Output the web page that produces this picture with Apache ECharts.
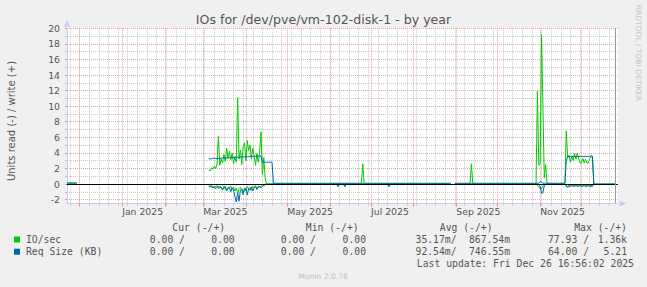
<!DOCTYPE html>
<html>
<head>
<meta charset="utf-8">
<script src="https://cdn.jsdelivr.net/npm/echarts@6.0.0/dist/echarts.min.js"></script>
<style>
html,body{margin:0;padding:0;background:#f0f0f0;}
#chart{width:647px;height:287px;}
</style>
</head>
<body>
<div id="chart"></div>
<script>
// ---------------- data ----------------
const chartTitle = 'IOs for /dev/pve/vm-102-disk-1 - by year';
const yAxisTitle = 'Units read (-) / write (+)';
const rangeStart = '2024-11-21T21:36';
const rangeEnd = '2025-12-27T14:24';
const nowLine = '2025-12-25T18:00';
const monthTicks = ['2024-12-01','2025-01-01','2025-02-01','2025-03-01','2025-04-01','2025-05-01','2025-06-01','2025-07-01','2025-08-01','2025-09-01','2025-10-01','2025-11-01','2025-12-01'];
const monthLabelDates = ['2025-01-01','2025-03-01','2025-05-01','2025-07-01','2025-09-01','2025-11-01'];
const monthLabels = ['Jan 2025','Mar 2025','May 2025','Jul 2025','Sep 2025','Nov 2025'];
const yMajorTicks = [-2,0,2,4,6,8,10,12,14,16,18,20];
const yMinorTicks = [-1,1,3,5,7,9,11,13,15,17,19];
const yMin = -2.5, yMax = 20;

// burst start dates (daily values follow)
const marStart = '2025-03-05';
const octStart = '2025-10-29';
const novStart = '2025-11-19';

// IO/sec  (write = +, read = -)
const ioWriteQuiet = [['2024-11-22',0.05],['2024-11-29',0.05],['2024-12-01',null],
  ['2025-06-24',0.05],['2025-06-25',2.6],['2025-06-26',0.05],['2025-08-28',0.05],['2025-08-29',null],
  ['2025-08-31',0.05],['2025-09-11',0.05],['2025-09-12',2.6],['2025-09-13',0.05],['2025-10-28',0.05],
  ['2025-11-18',0.05],['2025-12-11',0],['2025-12-26',0]];
const ioWriteMar = [1.8,1.7,2.1,1.9,2.3,2.0,2.6,6.1,2.4,3.2,2.7,3.8,2.9,4.6,3.3,4.2,3.1,4.0,2.6,3.5,2.8,11.1,3.2,4.4,2.5,4.8,5.3,3.0,5.6,4.3,5.0,3.2,4.6,3.7,2.4,3.9,2.8,4.1,6.7,1.2,3.4,0.8,0.05];
const ioWriteOct = [0.05,11.9,2.4,2.6,19.2,9.9,0.8,2.5,0.05];
const ioWriteNov = [0.05,6.8,3.4,3.7,2.8,3.6,3.0,3.9,3.2,4.0,3.3,2.7,2.7,3.3,2.7,3.2,2.7,2.7,3.3,3.5,3.4,0];
const ioReadBreaks = [['2025-04-17',null],['2025-11-06',null]];
const ioReadMar = [0.3,0.2,0.4,0.3,0.5,0.3,0.2,0.6,0.3,0.4,0.8,0.3,0.6,0.9,0.4,0.5,0.3,0.7,0.4,0.9,0.5,1.2,0.6,0.4,0.8,1.4,0.5,0.9,0.3,0.6,0.4,0.8,0.3,0.5,0.2,0.6,0.3,0.4,0.2,0.1,0.1,0,0];
const ioReadOct = [0,0.2,0.4,0.5,0.6,0.3,0.1,0];
const ioReadNov = [0,0.2,0.3,0.2,0.2,0.1,0.2,0.2,0.1,0.2,0.2,0.1,0.2,0.2,0.1,0.2,0.2,0.1,0.2,0.2,0.2,0];

// Req Size (KB)  (write = +, read = -)
const reqWriteQuiet = [['2024-11-22',0.15],['2024-11-29',0.15],['2024-12-01',null],
  ['2025-08-28',0.1],['2025-08-29',null],['2025-08-31',0.1],['2025-10-28',0.1],
  ['2025-11-18',0.1],['2025-12-11',0],['2025-12-26',0]];
const reqWriteMar = [3.25,3.2,3.25,3.3,3.3,3.3,3.25,3.3,3.3,3.3,3.35,3.35,3.3,3.35,3.35,3.4,3.4,3.4,3.4,3.45,3.45,3.45,3.45,3.45,3.5,3.5,3.5,3.5,3.5,3.5,3.55,3.55,3.55,3.55,3.6,3.6,3.6,3.6,3.6,2.8,2.8,2.8,2.8,2.8,2.8,2.8,2.8,0.1];
const reqWriteOct = [0.1,0.1,0.1,0.3,0.25,0.1,0.1,0.1,0.1];
const reqWriteNov = [0.1,3.0,3.5,3.55,3.55,3.55,3.55,3.55,3.55,3.55,3.55,3.55,3.55,3.55,3.55,3.55,3.55,3.55,3.55,3.6,3.6,0];
const reqReadDips = [['2025-04-17',null],['2025-06-06',0],['2025-06-07',0.35],['2025-06-08',0],['2025-06-09',null],
  ['2025-06-11',0],['2025-06-12',0.35],['2025-06-13',0],['2025-06-14',null],
  ['2025-07-13',0],['2025-07-14',0.35],['2025-07-15',0],['2025-07-16',null],['2025-11-06',null]];
const reqReadMar = [0.3,0.4,0.2,0.5,0.3,0.6,0.4,0.3,0.5,0.4,0.7,0.5,0.3,0.8,0.6,0.4,1.0,0.5,0.7,1.6,2.3,1.1,2.2,0.8,0.6,1.2,0.7,0.5,1.4,0.6,0.8,0.4,0.9,0.5,0.3,0.7,0.4,0.3,0.5,0.3,0.2,0.1,0];
const reqReadOct = [0,0,0,0.3,1.2,1.1,0.2,0];
const reqReadNov = [0,0.3,0.4,0.3,0.3,0.2,0.3,0.3,0.2,0.3,0.3,0.2,0.3,0.3,0.2,0.3,0.3,0.2,0.3,0.3,0.3,0];

// legend
const legendHeaders = ['Cur (-/+)','Min (-/+)','Avg (-/+)','Max (-/+)'];
const legendNames = ['IO/sec','Req Size (KB)'];
const legendColors = ['#00cc00','#0066b3'];
const ioStats = ['0.00 /','0.00','0.00 /','0.00','35.17m/','867.54m','77.93 /','1.36k'];
const reqStats = ['0.00 /','0.00','0.00 /','0.00','92.54m/','746.55m','64.00 /','5.21'];
const lastUpdate = 'Last update: Fri Dec 26 16:56:02 2025';
const footerText = 'Munin 2.0.76';
const sideText = 'RRDTOOL / TOBI OETIKER';

// ---------------- build ----------------
const DAY = 86400000;
const toDay = s => Date.parse(s.length > 10 ? s + ':00Z' : s + 'T00:00:00Z') / DAY;
const xMin = toDay(rangeStart), xMax = toDay(rangeEnd);

function build(points, bursts, sign) {
  const out = points.map(([d, v]) => [toDay(d), v]);
  bursts.forEach(([start, vals]) => vals.forEach((v, i) => out.push([toDay(start) + i, v])));
  out.sort((a, b) => a[0] - b[0]);
  return out.map(([x, v]) => [x, v == null ? '-' : sign * v]);
}
const ioWrite = build(ioWriteQuiet, [[marStart, ioWriteMar], [octStart, ioWriteOct], [novStart, ioWriteNov]], 1);
const ioRead = build(ioReadBreaks, [[marStart, ioReadMar], [octStart, ioReadOct], [novStart, ioReadNov]], -1);
const reqWrite = build(reqWriteQuiet, [[marStart, reqWriteMar], [octStart, reqWriteOct], [novStart, reqWriteNov]], 1);
const reqRead = build(reqReadDips, [[marStart, reqReadMar], [octStart, reqReadOct], [novStart, reqReadNov]], -1);

const weekTicks = [];
for (let d = Math.ceil(xMin); d <= xMax; d++) { if (((d % 7) + 7) % 7 === 3) weekTicks.push(d); }
const monthTickDays = monthTicks.map(toDay);
const monthLabelDays = monthLabelDates.map(toDay);

const AXIS_COLOR = '#c6cdf6';
const MAJOR = '#e6a6a6';
const MINOR = '#c9c9c9';
const TEXT = '#555555';
const SANS = 'DejaVu Sans';
const MONO = 'DejaVu Sans Mono';

const lineSeries = (name, data, color, z) => ({
  type: 'line', name, data, xAxisIndex: 1, yAxisIndex: 1, z,
  symbol: 'none', showSymbol: false, connectNulls: false, silent: true,
  lineStyle: { color, width: 1 }, itemStyle: { color }, animation: false
});

const graphics = [];
const txt = (x, y, text, o) => graphics.push({
  type: 'text', x, y, rotation: o.rot || 0, silent: true,
  style: { text, fill: o.fill || TEXT, fontFamily: o.font || SANS, fontSize: o.size || 9.75,
    align: o.align || 'left', textAlign: o.align || 'left', verticalAlign: 'middle', textVerticalAlign: 'middle' }
});
txt(323.5, 19, chartTitle, { size: 12.6, align: 'center' });
txt(11, 121, yAxisTitle, { size: 10, align: 'center', rot: Math.PI / 2 });
txt(638, 53, sideText, { size: 7.5, align: 'center', rot: -Math.PI / 2, fill: '#c4c4c4' });
const headerRight = [225.2, 358.7, 492.6, 627];
legendHeaders.forEach((h, i) => txt(headerRight[i], 227.7, h, { font: MONO, align: 'right' }));
const statRight = [185, 234.7, 316, 366, 456.6, 510, 589, 627];
const rowY = [239.5, 251.7];
[ioStats, reqStats].forEach((stats, r) => {
  graphics.push({ type: 'rect', silent: true, shape: { x: 14, y: rowY[r] - 3, width: 6, height: 6 }, style: { fill: legendColors[r] } });
  txt(26, rowY[r], legendNames[r], { font: MONO });
  stats.forEach((s, i) => txt(statRight[i], rowY[r], s, { font: MONO, align: 'right' }));
});
txt(634, 263.7, lastUpdate, { font: MONO, align: 'right' });
txt(323, 276, footerText, { size: 7.6, align: 'center', fill: '#c0c0c0' });

const chart = echarts.init(document.getElementById('chart'), null, { renderer: 'svg', width: 647, height: 287 });
chart.setOption({
  backgroundColor: '#f0f0f0',
  animation: false,
  grid: { left: 67, right: 29, top: 28.3, bottom: 83.5, show: true, backgroundColor: '#ffffff', borderWidth: 0, z: -5 },
  xAxis: [
    { type: 'value', min: xMin, max: xMax, position: 'bottom', z: 0.5,
      axisLine: { show: false, onZero: false },
      axisLabel: { show: false },
      axisTick: { show: true, customValues: weekTicks, length: 2, lineStyle: { color: '#c0c0c0' } },
      splitLine: { show: true, lineStyle: { color: MINOR, width: 1, type: [1, 1] } } },
    { type: 'value', min: xMin, max: xMax, position: 'bottom', z: 1,
      axisLine: { show: true, onZero: false, lineStyle: { color: AXIS_COLOR, width: 1 },
        symbol: ['none', 'triangle'], symbolSize: [6, 7], symbolOffset: [0, 5] },
      axisTick: { show: true, customValues: monthTickDays, length: 3, lineStyle: { color: '#e09090' } },
      axisLabel: { customValues: monthLabelDays, align: 'left', margin: 3, color: TEXT, fontSize: 9.3, fontFamily: SANS,
        formatter: v => monthLabels[monthLabelDays.findIndex(d => Math.abs(d - v) < 0.01)] || '' },
      splitLine: { show: true, lineStyle: { color: MAJOR, width: 1, type: [1, 1] } } }
  ],
  yAxis: [
    { type: 'value', min: yMin, max: yMax, position: 'left', z: 0.5,
      axisLine: { show: false, onZero: false },
      axisLabel: { show: false },
      axisTick: { show: true, customValues: yMinorTicks, length: 2, lineStyle: { color: '#c0c0c0' } },
      splitLine: { show: true, lineStyle: { color: MINOR, width: 1, type: [1, 1] } } },
    { type: 'value', min: yMin, max: yMax, position: 'left', z: 1,
      axisLine: { show: true, onZero: false, lineStyle: { color: AXIS_COLOR, width: 1 },
        symbol: ['none', 'triangle'], symbolSize: [6, 7], symbolOffset: [0, 5] },
      axisTick: { show: true, customValues: yMajorTicks, length: 2, lineStyle: { color: '#e09090' } },
      axisLabel: { customValues: yMajorTicks, margin: 7, color: TEXT, fontSize: 9.3, fontFamily: SANS },
      splitLine: { show: true, lineStyle: { color: MAJOR, width: 1, type: [1, 1] } } }
  ],
  series: [
    lineSeries('IO/sec read', ioRead, legendColors[0], 2),
    lineSeries('Req Size read', reqRead, legendColors[1], 2.1),
    { type: 'line', name: 'rules', data: [], xAxisIndex: 1, yAxisIndex: 1, z: 3, silent: true,
      markLine: { silent: true, symbol: ['none', 'none'], label: { show: false }, animation: false,
        data: [ { yAxis: 0, lineStyle: { color: '#000000', width: 1, type: 'solid' } },
                { xAxis: toDay(nowLine), lineStyle: { color: '#999999', width: 1, type: 'solid' } } ] } },
    lineSeries('IO/sec write', ioWrite, legendColors[0], 4),
    lineSeries('Req Size write', reqWrite, legendColors[1], 4.1)
  ],
  graphic: graphics
});
</script>
</body>
</html>
